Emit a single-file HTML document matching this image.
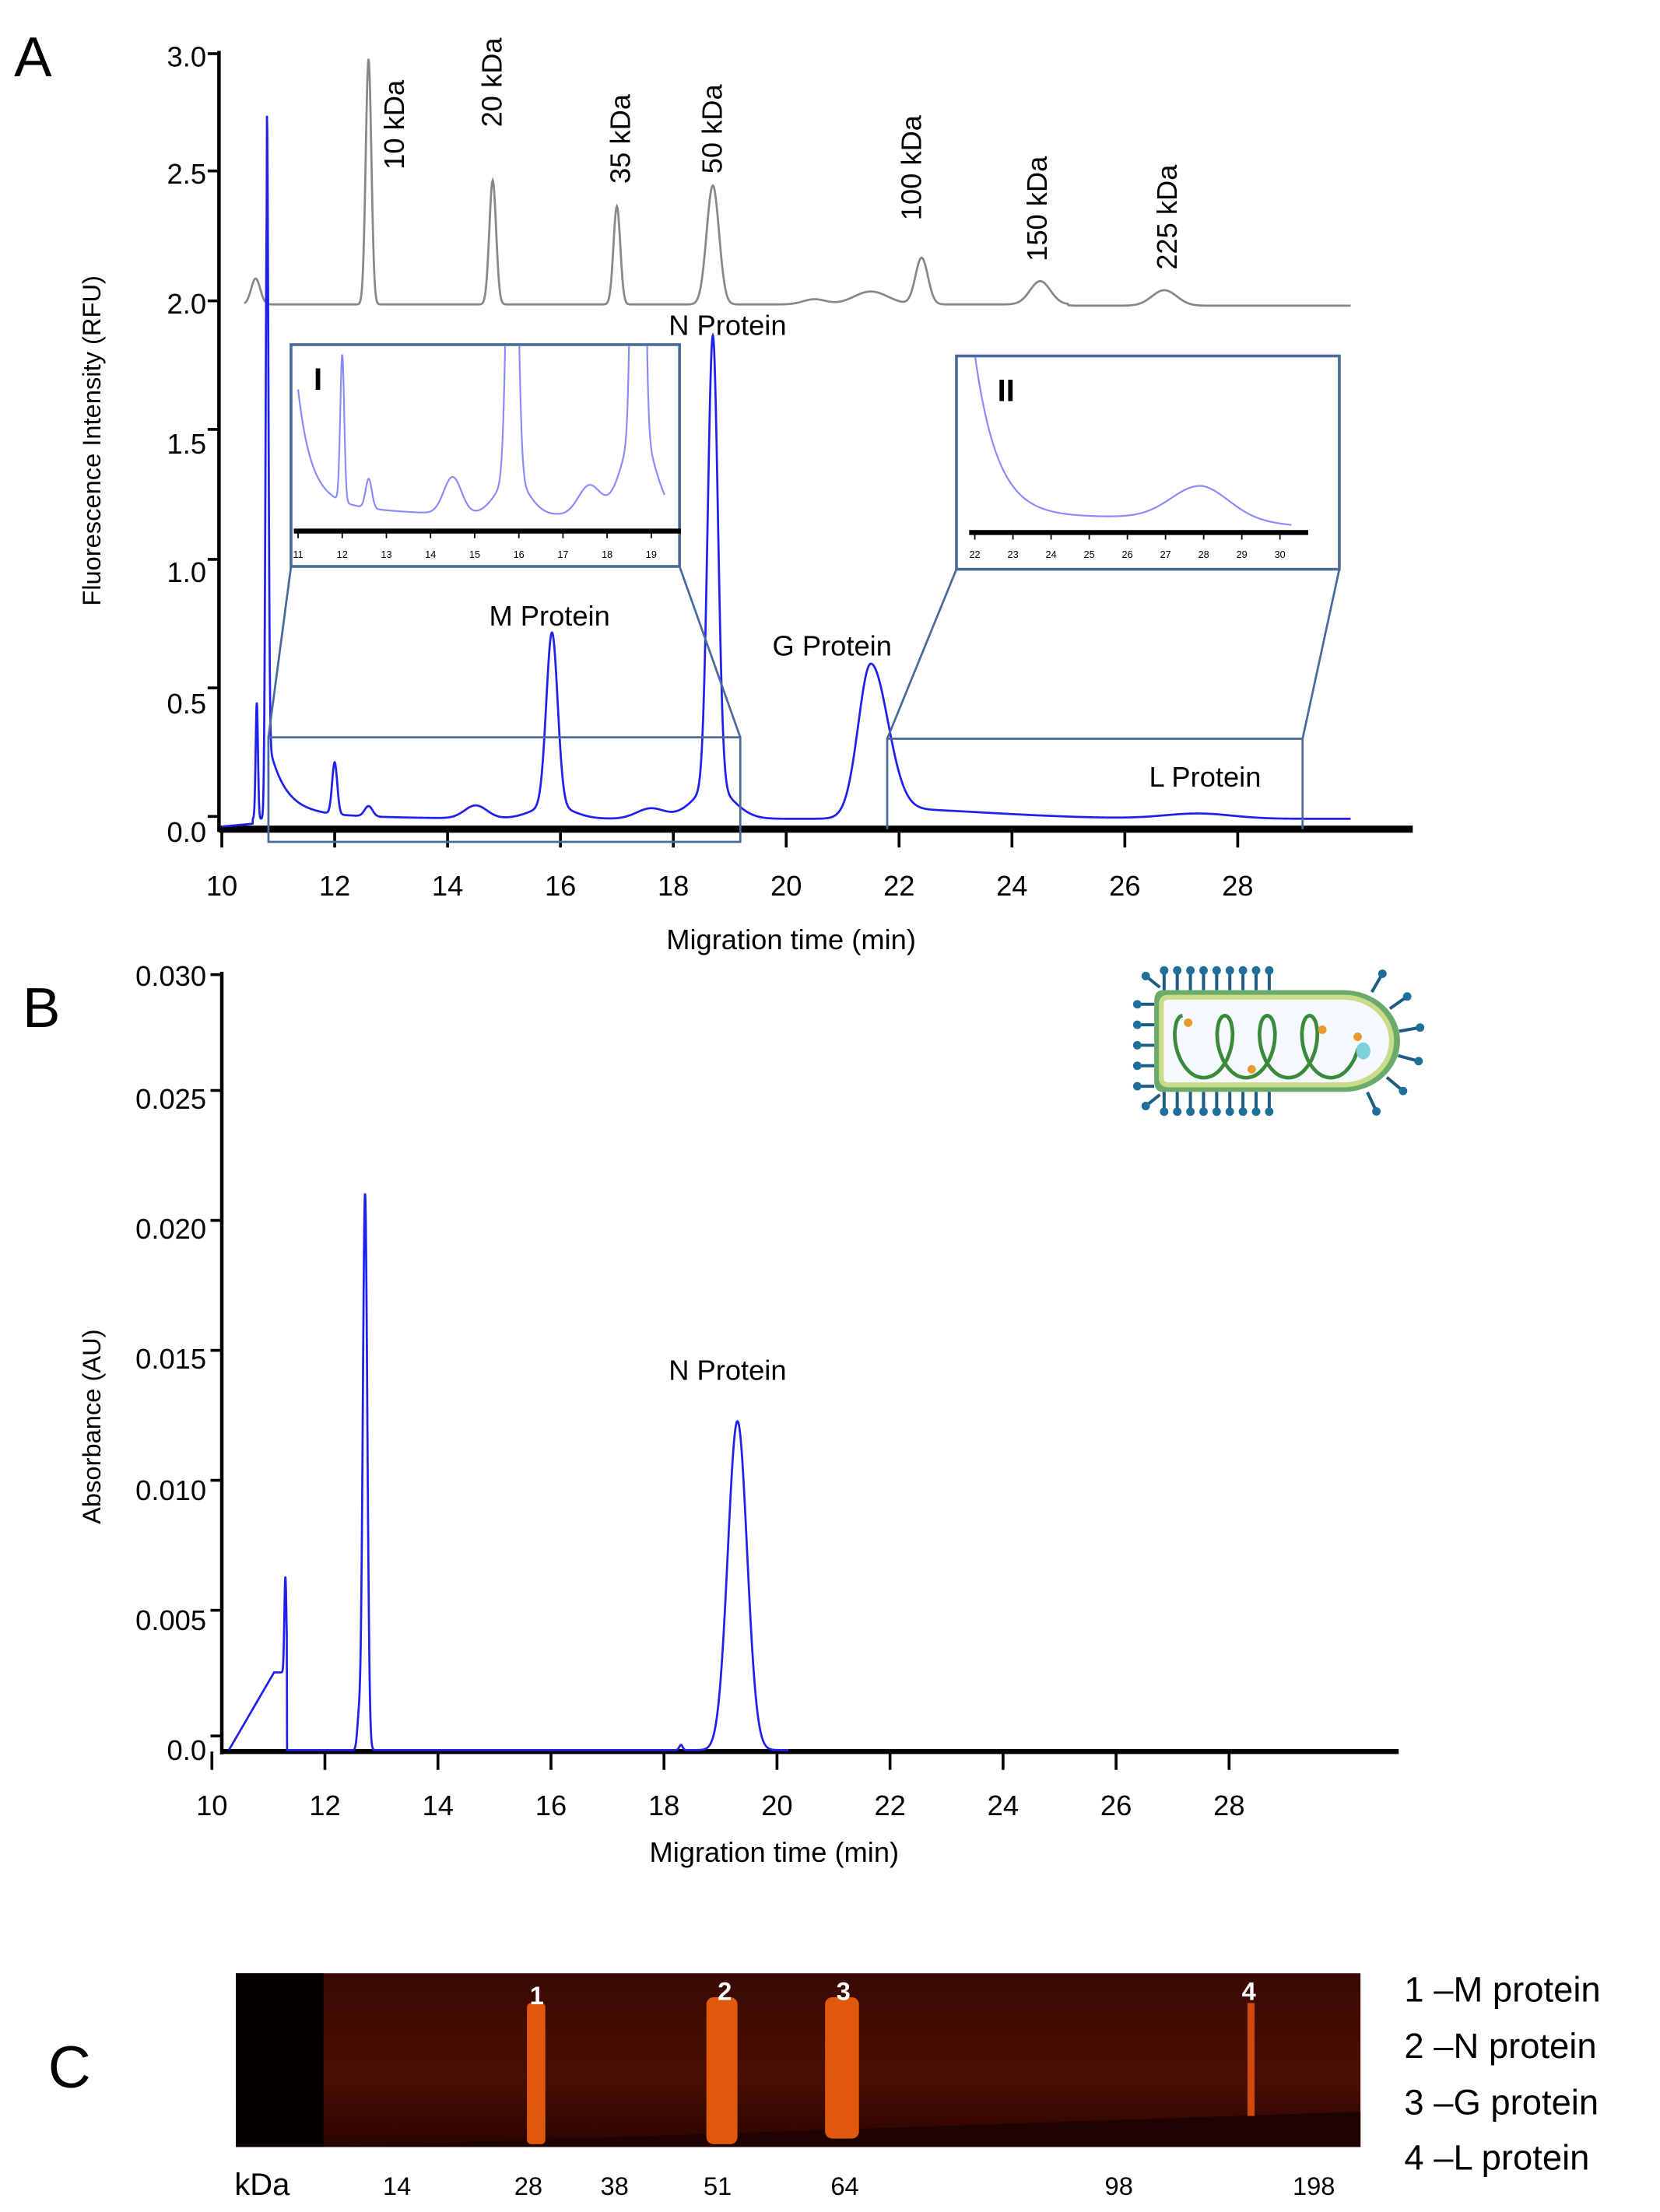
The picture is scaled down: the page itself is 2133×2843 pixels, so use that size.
<!DOCTYPE html>
<html><head><meta charset="utf-8"><style>
html,body{margin:0;padding:0;background:#fff}
svg{display:block}
text{font-family:"Liberation Sans",sans-serif}
</style></head><body>
<svg id="s" width="2133" height="2843" viewBox="0 0 1175 1566" preserveAspectRatio="none" xmlns="http://www.w3.org/2000/svg">
<defs>
<clipPath id="c1"><rect x="207" y="245" width="273" height="130"/></clipPath>
<clipPath id="c2"><rect x="678" y="253" width="269" height="120"/></clipPath>
<linearGradient id="gel" x1="0" y1="0" x2="0" y2="1"><stop offset="0" stop-color="#3a0a02"/><stop offset="0.6" stop-color="#4a0e03"/><stop offset="1" stop-color="#2a0500"/></linearGradient>
</defs>
<!-- Panel A -->
<text x="10" y="54" font-size="40">A</text>
<line x1="155" y1="36" x2="155" y2="589" stroke="#000" stroke-width="2.5"/>
<line x1="155" y1="587" x2="1000" y2="587" stroke="#000" stroke-width="5"/>
<g stroke="#000" stroke-width="2">
<line x1="147" y1="38" x2="155" y2="38"/><line x1="147" y1="121" x2="155" y2="121"/><line x1="147" y1="213" x2="155" y2="213"/><line x1="147" y1="304" x2="155" y2="304"/><line x1="147" y1="396" x2="155" y2="396"/><line x1="147" y1="487" x2="155" y2="487"/><line x1="147" y1="578" x2="155" y2="578"/>
</g>
<g font-size="20" text-anchor="end">
<text x="146" y="47">3.0</text><text x="146" y="130">2.5</text><text x="146" y="222">2.0</text><text x="146" y="321">1.5</text><text x="146" y="412">1.0</text><text x="146" y="505">0.5</text><text x="146" y="596">0.0</text>
</g>
<g id="xtA" stroke="#000" stroke-width="2"></g>
<g font-size="20" text-anchor="middle" id="xlA"></g>
<text x="560" y="672" font-size="20" text-anchor="middle">Migration time (min)</text>
<text transform="translate(71,312) rotate(-90)" font-size="18" text-anchor="middle">Fluorescence Intensity (RFU)</text>
<path id="gray" fill="none" stroke="#888" stroke-width="1.5"/>
<path id="blue" fill="none" stroke="#2020ee" stroke-width="1.5"/>
<g font-size="20">
<text transform="translate(286,120) rotate(-90)">10 kDa</text>
<text transform="translate(355,90) rotate(-90)">20 kDa</text>
<text transform="translate(446,130) rotate(-90)">35 kDa</text>
<text transform="translate(511,123) rotate(-90)">50 kDa</text>
<text transform="translate(652,156) rotate(-90)">100 kDa</text>
<text transform="translate(741,185) rotate(-90)">150 kDa</text>
<text transform="translate(833,191) rotate(-90)">225 kDa</text>
</g>
<g font-size="20" text-anchor="middle">
<text x="515" y="237">N Protein</text><text x="389" y="443">M Protein</text><text x="589" y="464">G Protein</text><text x="853" y="557">L Protein</text>
</g>
<g fill="none" stroke="#4a6a9a" stroke-width="1.5">
<rect x="190" y="522" width="334" height="74"/>
<polyline points="628,587 628,523 922,523 922,587"/>
<line x1="190" y1="522" x2="206" y2="401"/><line x1="524" y1="522" x2="481" y2="401"/>
<line x1="628" y1="523" x2="677" y2="403"/><line x1="922" y1="523" x2="948" y2="403"/>
</g>
<rect x="206" y="244" width="275" height="157" fill="#fff" stroke="#4a6a9a" stroke-width="2"/>
<rect x="677" y="252" width="271" height="151" fill="#fff" stroke="#4a6a9a" stroke-width="2"/>
<text x="222" y="276" font-size="22" font-weight="bold">I</text>
<text x="706" y="284" font-size="22" font-weight="bold">II</text>
<path id="in1" fill="none" stroke="#8a8aff" stroke-width="1.2" clip-path="url(#c1)"/>
<path id="in2" fill="none" stroke="#8a8aff" stroke-width="1.2" clip-path="url(#c2)"/>
<line x1="208" y1="376" x2="482" y2="376" stroke="#000" stroke-width="3.5"/>
<line x1="686" y1="377" x2="926" y2="377" stroke="#000" stroke-width="3.5"/>
<g id="ti1" font-size="7" text-anchor="middle"></g>
<g id="ti2" font-size="7" text-anchor="middle"></g>
<!-- Panel B -->
<text x="16" y="727" font-size="40">B</text>
<line x1="157" y1="688" x2="157" y2="1242" stroke="#000" stroke-width="2.5"/>
<line x1="157" y1="1240" x2="990" y2="1240" stroke="#000" stroke-width="3.5"/>
<g stroke="#000" stroke-width="2">
<line x1="149" y1="690" x2="157" y2="690"/><line x1="149" y1="772" x2="157" y2="772"/><line x1="149" y1="864" x2="157" y2="864"/><line x1="149" y1="956" x2="157" y2="956"/><line x1="149" y1="1048" x2="157" y2="1048"/><line x1="149" y1="1140" x2="157" y2="1140"/><line x1="149" y1="1229" x2="157" y2="1229"/>
</g>
<g font-size="20" text-anchor="end">
<text x="146" y="698">0.030</text><text x="146" y="785">0.025</text><text x="146" y="877">0.020</text><text x="146" y="969">0.015</text><text x="146" y="1062">0.010</text><text x="146" y="1154">0.005</text><text x="146" y="1246">0.0</text>
</g>
<g id="xtB" stroke="#000" stroke-width="2"></g>
<g font-size="20" text-anchor="middle" id="xlB"></g>
<text x="548" y="1318" font-size="20" text-anchor="middle">Migration time (min)</text>
<text transform="translate(71,1010) rotate(-90)" font-size="18" text-anchor="middle">Absorbance (AU)</text>
<path id="blueB" fill="none" stroke="#2020ee" stroke-width="1.5"/>
<text x="515" y="977" font-size="20" text-anchor="middle">N Protein</text>
<g id="virus"></g>
<!-- Panel C -->
<text x="34" y="1478" font-size="42">C</text>
<rect x="167" y="1397" width="796" height="123" fill="url(#gel)"/>
<rect x="167" y="1397" width="62" height="123" fill="#050000"/>
<polygon points="229,1520 963,1495 963,1520" fill="#1e0300"/>
<rect x="373" y="1418" width="13" height="100" rx="3" fill="#e0580c"/>
<rect x="500" y="1414" width="22" height="104" rx="5" fill="#e0580c"/>
<rect x="584" y="1414" width="24" height="100" rx="5" fill="#e0580c"/>
<rect x="883" y="1418" width="5" height="80" fill="#d04a0a"/>
<g fill="#fff" font-size="18" font-weight="bold" text-anchor="middle">
<text x="380" y="1419">1</text><text x="513" y="1416">2</text><text x="597" y="1416">3</text><text x="884" y="1416">4</text>
</g>
<g font-size="18" text-anchor="middle">
<text x="281" y="1554">14</text><text x="374" y="1554">28</text><text x="435" y="1554">38</text><text x="508" y="1554">51</text><text x="598" y="1554">64</text><text x="792" y="1554">98</text><text x="930" y="1554">198</text>
</g>
<text x="166" y="1554" font-size="22">kDa</text>
<g font-size="25">
<text x="994" y="1417">1 –M protein</text><text x="994" y="1457">2 –N protein</text><text x="994" y="1497">3 –G protein</text><text x="994" y="1536">4 –L protein</text>
</g>
</svg>
<script>
function g(t,m,a,s){return a*Math.exp(-0.5*((t-m)/s)*((t-m)/s));}
function ga(t,m,a,sl,sr){var s=t<m?sl:sr;return g(t,m,a,s);}
function XA(t){return 157+(t-10)*39.95;}function YA(v){return 587-v*183;}
function path(f,t0,t1,dt,X,Y){var d='';for(var t=t0;t<=t1+1e-9;t+=dt){d+=(d?'L':'M')+X(t).toFixed(2)+','+Y(f(t)).toFixed(2);}return d;}
function gray(t){return 2.03+g(t,10.6,0.1,0.08)+g(t,12.6,0.95,0.05)+g(t,14.8,0.48,0.06)+g(t,17.0,0.38,0.06)+g(t,18.7,0.46,0.11)+g(t,20.5,0.02,0.2)+g(t,21.5,0.05,0.3)+g(t,22.4,0.18,0.11)+g(t,24.5,0.09,0.18)+g(t,26.7,0.06,0.22)-(t>25?0.005:0);}
function blue(t){var v=0.04;if(t<10.55)v=0.01+(t-10)*0.02;
v+=g(t,10.8,2.4,0.025)+g(t,10.62,0.45,0.02);
if(t>10.8)v+=0.28*Math.exp(-(t-10.8)/0.28)+0.04*Math.exp(-(t-10.8)/1.2);
v+=g(t,12.0,0.2,0.045)+g(t,12.6,0.04,0.07)+g(t,14.5,0.05,0.2)+g(t,15.85,0.67,0.1)+g(t,15.85,0.05,0.35)+g(t,17.6,0.04,0.25)+g(t,18.7,1.75,0.09)+g(t,18.7,0.12,0.35);
v+=ga(t,21.5,0.56,0.22,0.3)+ga(t,21.5,0.04,0.3,2.0);
v+=g(t,27.3,0.02,0.6);return v;}
document.getElementById('gray').setAttribute('d',path(gray,10.4,30,0.01,XA,YA));
document.getElementById('blue').setAttribute('d',path(blue,10,30,0.005,XA,YA));
var s1='',s2='',s3='',s4='';
for(var t=10;t<=28;t+=2){var x=XA(t);s1+='<line x1="'+x+'" y1="587" x2="'+x+'" y2="600"/>';s2+='<text x="'+x+'" y="634">'+t+'</text>';
var xb=150+(t-10)*40;s3+='<line x1="'+xb+'" y1="1240" x2="'+xb+'" y2="1253"/>';s4+='<text x="'+xb+'" y="1285">'+t+'</text>';}
document.getElementById('xtA').innerHTML=s1;document.getElementById('xlA').innerHTML=s2;
document.getElementById('xtB').innerHTML=s3;document.getElementById('xlB').innerHTML=s4;
function XI(t){return 211+(t-11)*31.25;}
document.getElementById('in1').setAttribute('d',path(blue,11,19.3,0.01,XI,function(v){return 362-(v-0.045)*520;}));
var a='';for(var t=11;t<=19;t++){var x=XI(t);a+='<line x1="'+x+'" y1="376" x2="'+x+'" y2="381" stroke="#000"/><text x="'+x+'" y="395">'+t+'</text>';}
document.getElementById('ti1').innerHTML=a;
function XII(t){return 690+(t-22)*27;}
var d='';for(var t=22;t<=30.3;t+=0.02){var y=366-115*Math.exp(-(t-22)/0.6)-22*Math.exp(-0.5*Math.pow((t-27.9)/0.75,2))+(t>28?(t-28)*2.5:0);d+=(d?'L':'M')+XII(t).toFixed(2)+','+y.toFixed(2);}
document.getElementById('in2').setAttribute('d',d);
a='';for(var t=22;t<=30;t++){var x=XII(t);a+='<line x1="'+x+'" y1="377" x2="'+x+'" y2="382" stroke="#000"/><text x="'+x+'" y="395">'+t+'</text>';}
document.getElementById('ti2').innerHTML=a;
function XB(t){return 150+(t-10)*40;}function YB(v){return 1239-v*18333;}
function bB(t){var v=0;
if(t>=10.3&&t<11.1)v=0.003*(t-10.3)/0.8;else if(t>=11.1&&t<11.33)v=0.003+g(t,11.3,0.0037,0.018);
v+=g(t,12.6,0.0012,0.03)+g(t,12.71,0.0215,0.04)+g(t,18.3,0.0002,0.03)+g(t,19.3,0.0127,0.17);return v;}
document.getElementById('blueB').setAttribute('d',path(bB,10.3,20.2,0.005,XB,YB));
var v='';var cx=801,cy=679;
function spike(x1,y1,x2,y2){return '<line x1="'+x1+'" y1="'+y1+'" x2="'+x2+'" y2="'+y2+'" stroke="#1f5c82" stroke-width="2.2"/><circle cx="'+x2+'" cy="'+y2+'" r="3" fill="#1f6f9a"/>';}
for(var i=0;i<9;i++){var x=cx+23+i*9.3;v+=spike(x,cy+22,x,cy+8);v+=spike(x,cy+94,x,cy+108);}
for(var i=0;i<5;i++){var y=cy+32+i*14.5;v+=spike(cx+16,y,cx+4,y);}
v+=spike(cx+20,cy+20,cx+10,cy+12)+spike(cx+20,cy+96,cx+10,cy+104);
var ang=[-60,-35,-10,15,40,65];for(var i=0;i<ang.length;i++){var r=ang[i]*Math.PI/180;var ox=cx+150,oy=cy+58;v+=spike(ox+40*Math.cos(r),oy+40*Math.sin(r),ox+55*Math.cos(r),oy+55*Math.sin(r));}
v+='<path d="M'+(cx+22)+','+(cy+22)+' H'+(cx+150)+' A40,36 0 0 1 '+(cx+150)+','+(cy+94)+' H'+(cx+22)+' Q'+(cx+16)+','+(cy+94)+' '+(cx+16)+','+(cy+86)+' V'+(cy+30)+' Q'+(cx+16)+','+(cy+22)+' '+(cx+22)+','+(cy+22)+'Z" fill="#6aaa6a"/>';
v+='<path d="M'+(cx+26)+','+(cy+27)+' H'+(cx+150)+' A34,31 0 0 1 '+(cx+150)+','+(cy+89)+' H'+(cx+26)+' Q'+(cx+21)+','+(cy+89)+' '+(cx+21)+','+(cy+84)+' V'+(cy+32)+' Q'+(cx+21)+','+(cy+27)+' '+(cx+26)+','+(cy+27)+'Z" fill="#f4f8ff" stroke="#c8dc8a" stroke-width="3.5"/>';
var pts=[];for(var t=0;t<=3.75;t+=0.02){var ph=t*2*Math.PI;var x=cx+36+t*30-12*Math.sin(ph);var y=cy+62-22*Math.cos(ph)+(t<0.25?0:0);pts.push(x.toFixed(1)+','+y.toFixed(1));}
v+='<polyline points="'+pts.join(' ')+'" fill="none" stroke="#3a8a3a" stroke-width="2.6"/>';
v+='<circle cx="'+(cx+40)+'" cy="'+(cy+45)+'" r="3" fill="#e89a30"/><circle cx="'+(cx+85)+'" cy="'+(cy+78)+'" r="3" fill="#e89a30"/><circle cx="'+(cx+135)+'" cy="'+(cy+50)+'" r="3" fill="#e89a30"/><circle cx="'+(cx+160)+'" cy="'+(cy+55)+'" r="3" fill="#e89a30"/><ellipse cx="'+(cx+164)+'" cy="'+(cy+65)+'" rx="5" ry="6" fill="#7fd0d8"/>';
document.getElementById('virus').innerHTML=v;
</script>
</body></html>
